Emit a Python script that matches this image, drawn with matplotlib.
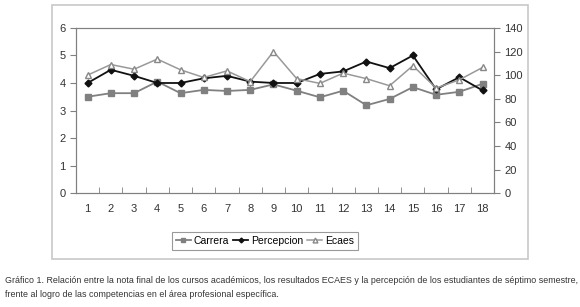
import matplotlib.pyplot as plt
from matplotlib.patches import Rectangle

plt.rcParams["font.family"] = ["Liberation Sans", "DejaVu Sans"]

cursos = list(range(1, 19))
carrera = [3.5, 3.63, 3.63, 4.05, 3.63, 3.75, 3.71, 3.75, 3.95, 3.72,
           3.48, 3.72, 3.19, 3.42, 3.85, 3.57, 3.68, 3.97]
percepcion = [4.0, 4.48, 4.26, 4.0, 4.0, 4.17, 4.26, 4.05, 4.0, 4.0,
              4.33, 4.42, 4.78, 4.54, 5.0, 3.77, 4.21, 3.73]
ecaes = [100, 109, 105, 113.6, 104.5, 98, 103.6, 94.5, 120, 97,
         93, 101.7, 97, 91, 108, 89, 96, 106.5]

caption = ("Gráfico 1. Relación entre la nota final de los cursos académicos, "
           "los resultados ECAES y la percepción de los estudiantes de séptimo semestre,\n"
           "frente al logro de las competencias en el área profesional específica.")

fig = plt.figure(figsize=(5.8, 3.07), dpi=100)
fig.patch.set_facecolor("white")

# outer chart frame
fig.patches.append(Rectangle((0.0897, 0.156), 0.820, 0.828, transform=fig.transFigure,
                             fill=False, edgecolor="#c8c8c8", linewidth=1.2))

ax = fig.add_axes([0.131, 0.371, 0.721, 0.538])
ax2 = ax.twinx()

l1, = ax.plot(cursos, carrera, color="#808080", marker="s", markersize=4.5,
              linewidth=1.3, label="Carrera")
l2, = ax.plot(cursos, percepcion, color="#111111", marker="D", markersize=3.5,
              linewidth=1.3, label="Percepcion")
l3, = ax2.plot(cursos, ecaes, color="#999999", marker="^", markersize=5,
               markerfacecolor="white", markeredgecolor="#888888",
               linewidth=1.1, label="Ecaes")

ax.set_xlim(0.5, 18.5)
ax.set_ylim(0, 6)
ax2.set_ylim(0, 140)
ax.set_yticks(range(0, 7))
ax2.set_yticks(range(0, 141, 20))
ax.set_xticks(cursos)
ax.set_xticks([i + 0.5 for i in range(0, 18)], minor=True)

for a in (ax, ax2):
    for side in ("left", "right", "bottom", "top"):
        a.spines[side].set_color("#808080")

ax.tick_params(axis="x", which="major", length=0, pad=8, labelsize=8, colors="#333333")
ax.tick_params(axis="x", which="minor", length=4, direction="in", color="#808080")
ax.tick_params(axis="y", length=4, direction="out", labelsize=8, colors="#333333", color="#808080")
ax2.tick_params(axis="y", length=4, direction="out", labelsize=8, colors="#333333", color="#808080")

leg = fig.legend(handles=[l1, l2, l3], loc="center", bbox_to_anchor=(0.457, 0.215),
                 ncol=3, fontsize=7.5, frameon=True, fancybox=False,
                 handlelength=1.4, handletextpad=0.3, columnspacing=0.4,
                 borderpad=0.4, edgecolor="#808080", markerscale=0.7)
leg.get_frame().set_linewidth(0.8)

fig.text(0.009, 0.064, caption, fontsize=6.4, color="#333333",
         va="center", linespacing=1.75)

fig.savefig("out.png", dpi=100)
